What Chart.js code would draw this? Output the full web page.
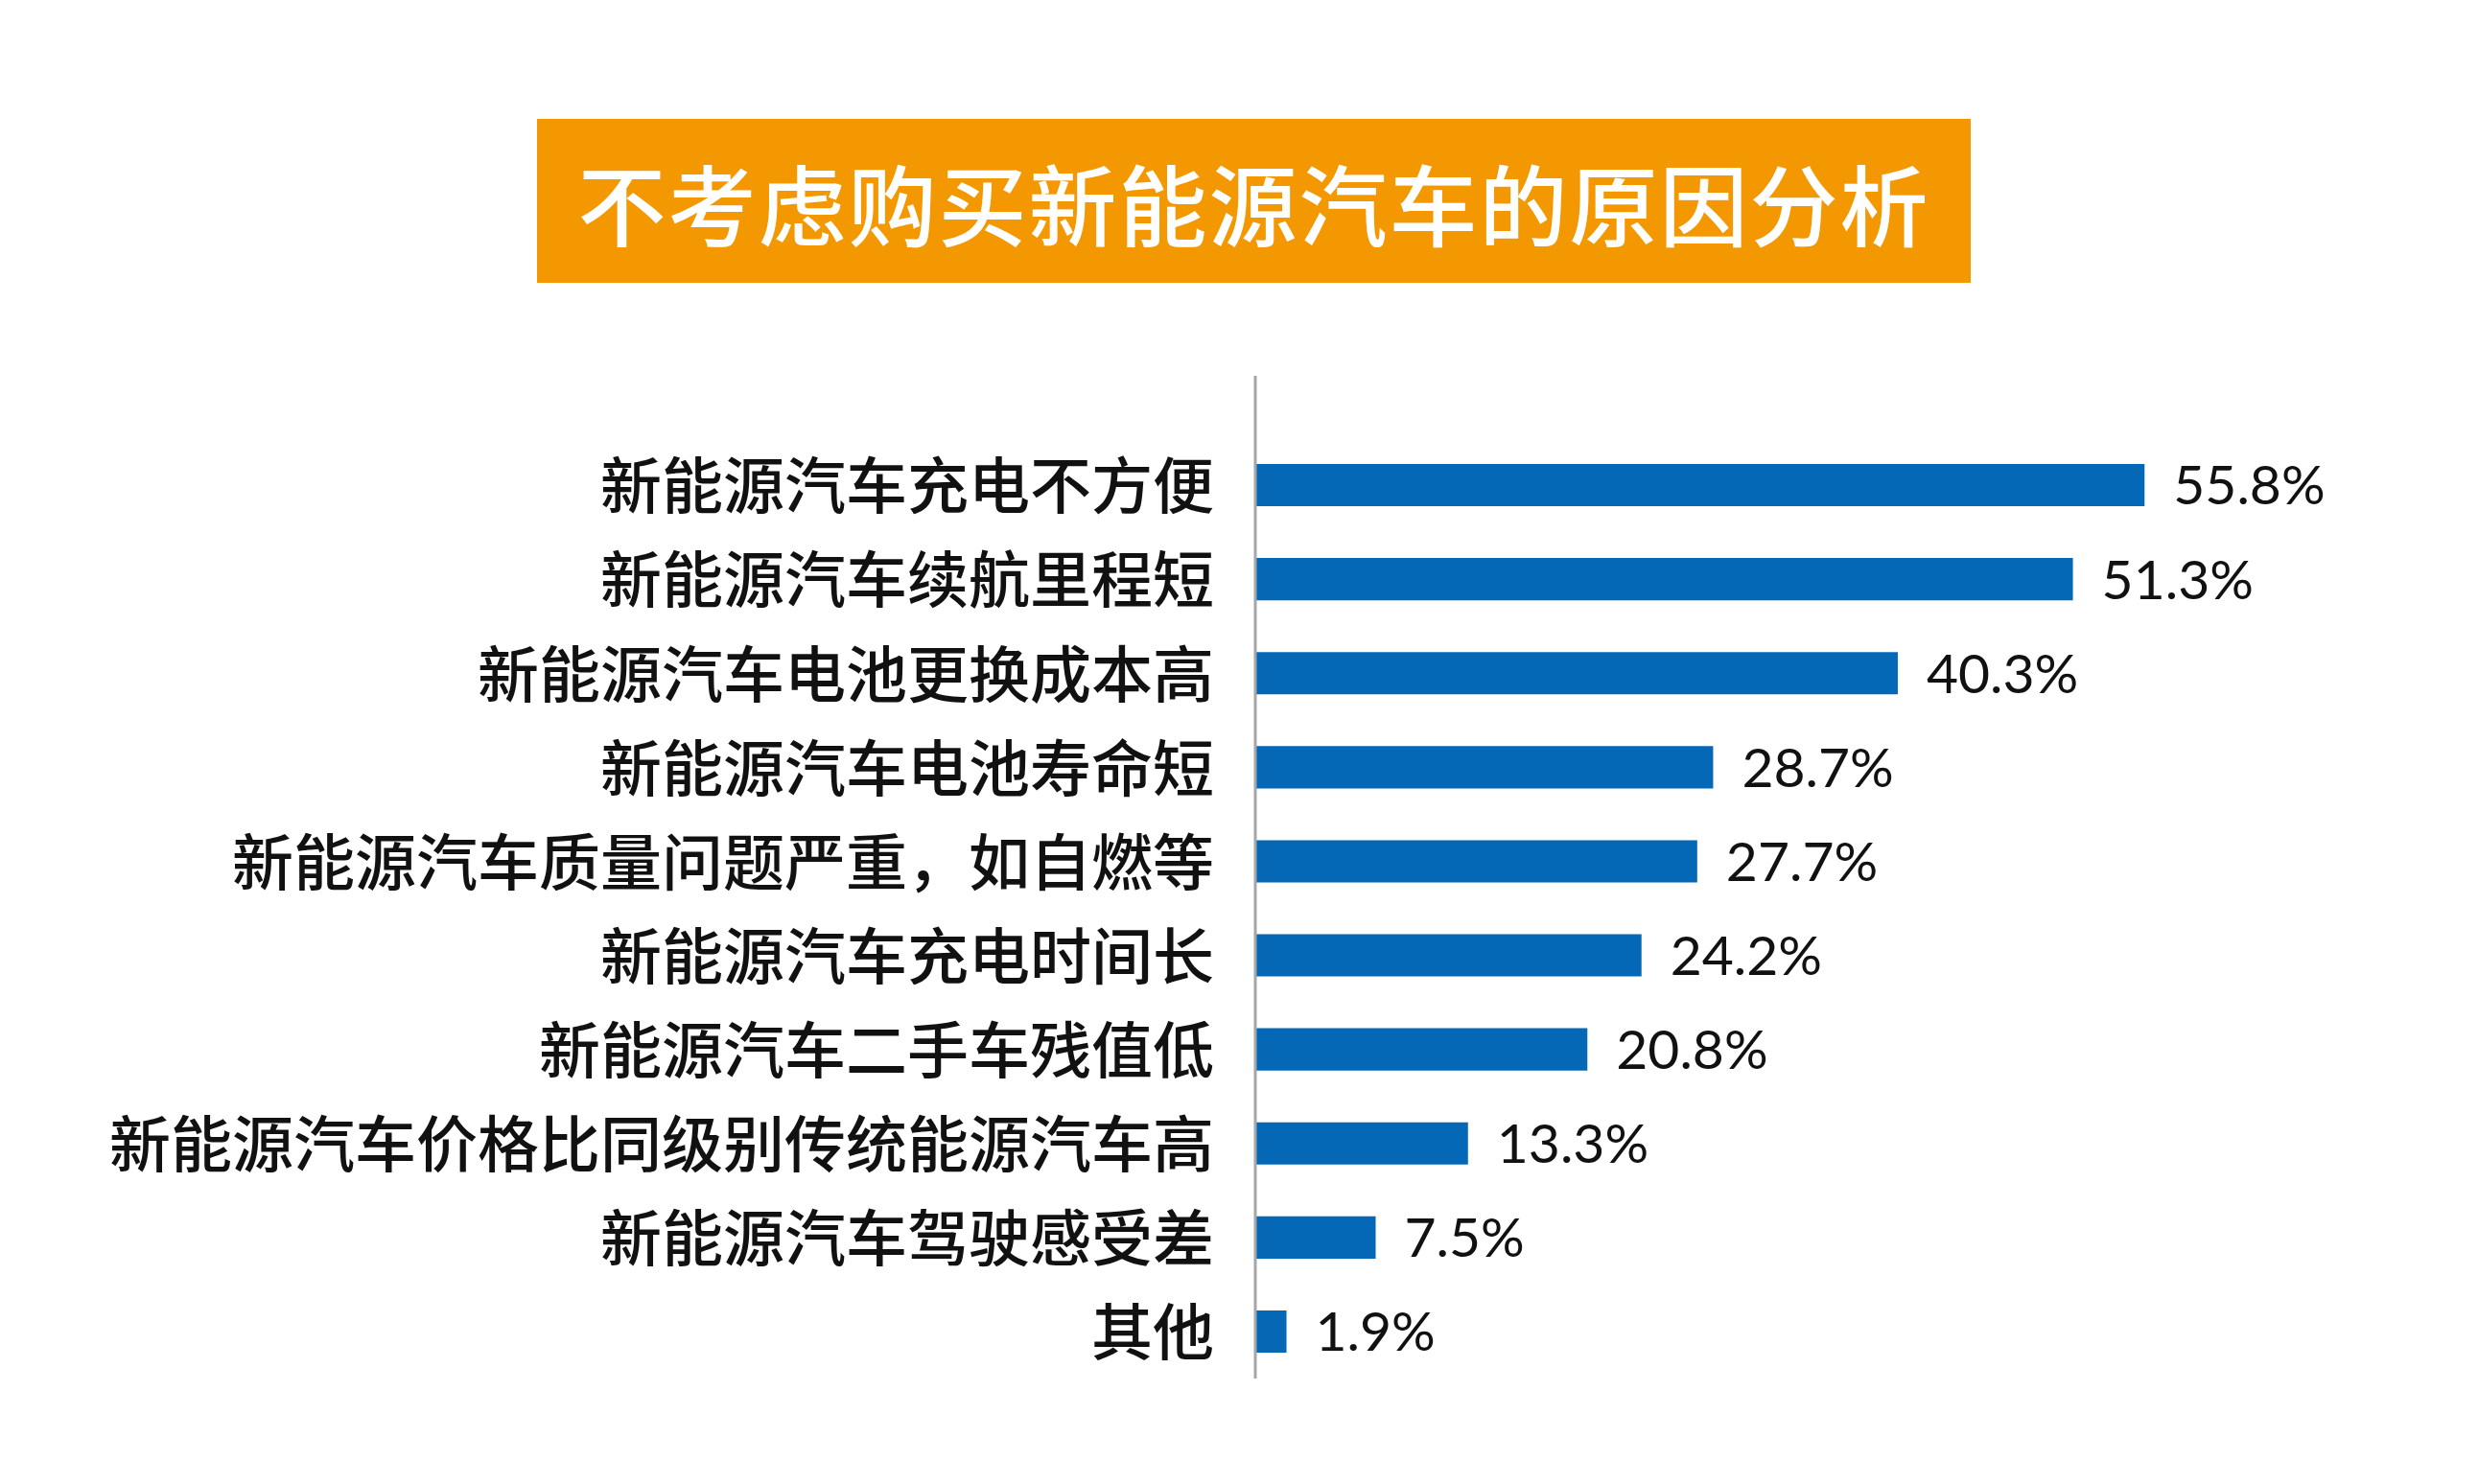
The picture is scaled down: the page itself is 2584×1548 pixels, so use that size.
<!DOCTYPE html>
<html>
<head>
<meta charset="utf-8">
<script src="https://cdn.jsdelivr.net/npm/chart.js@4/dist/chart.umd.min.js"></script>
<style>
  html, body { margin: 0; padding: 0; background: #fff; }
  .wrap { position: relative; width: 2584px; height: 1548px; }
  .title {
    position: absolute; left: 560px; top: 124px; width: 1495px; height: 171px;
    background: #f39800; color: #fff;
    font-family: "Noto Sans CJK SC", sans-serif; font-size: 92px; font-weight: 500;
    display: flex; align-items: center; justify-content: center; letter-spacing: 2px;
  }
  canvas { position: absolute; left: 0; top: 0; }
</style>
</head>
<body>
<div class="wrap">
  <canvas id="bar-chart" width="2584" height="1548"></canvas>
  <div class="title">不考虑购买新能源汽车的原因分析</div>
</div>
<script>
const reasons = [
  '新能源汽车充电不方便',
  '新能源汽车续航里程短',
  '新能源汽车电池更换成本高',
  '新能源汽车电池寿命短',
  '新能源汽车质量问题严重，如自燃等',
  '新能源汽车充电时间长',
  '新能源汽车二手车残值低',
  '新能源汽车价格比同级别传统能源汽车高',
  '新能源汽车驾驶感受差',
  '其他'
];
const shares = [55.8, 51.3, 40.3, 28.7, 27.7, 24.2, 20.8, 13.3, 7.5, 1.9];

// value labels at the end of each bar
const valueLabels = {
  id: 'valueLabels',
  afterDatasetsDraw(chart) {
    const ctx = chart.ctx;
    const meta = chart.getDatasetMeta(0);
    ctx.save();
    ctx.fillStyle = '#111';
    ctx.font = '57px Lato, "Noto Sans", sans-serif';
    ctx.textBaseline = 'middle';
    ctx.textAlign = 'left';
    meta.data.forEach((bar, i) => {
      ctx.fillText(shares[i].toFixed(1) + '%', bar.x + 30, bar.y + 2);
    });
    ctx.restore();
  }
};

// grey vertical axis line, a bit taller than the bars area
const axisLine = {
  id: 'axisLine',
  afterDatasetsDraw(chart) {
    const ctx = chart.ctx;
    const x = chart.scales.x.getPixelForValue(0);
    ctx.save();
    ctx.strokeStyle = '#a6a6a6';
    ctx.lineWidth = 3;
    ctx.beginPath();
    ctx.moveTo(x - 1, chart.chartArea.top - 65);
    ctx.lineTo(x - 1, chart.chartArea.bottom);
    ctx.stroke();
    ctx.restore();
  }
};

const ctx = document.getElementById('bar-chart');
new Chart(ctx, {
  type: 'bar',
  data: {
    labels: reasons,
    datasets: [{
      data: shares,
      backgroundColor: '#0568b6',
      barPercentage: 0.45,
      categoryPercentage: 1
    }]
  },
  options: {
    indexAxis: 'y',
    responsive: false,
    animation: false,
    layout: { padding: { top: 457, bottom: 110, left: 0, right: 112 } },
    plugins: { legend: { display: false }, tooltip: { enabled: false } },
    scales: {
      x: { display: false, min: 0, max: 70 },
      y: {
        afterFit(scale) { scale.width = 1310; },
        border: { display: false },
        grid: { display: false, drawTicks: false },
        ticks: {
          color: '#111',
          padding: 44,
          font: { family: '"Noto Sans CJK SC", sans-serif', size: 64, weight: 500 }
        }
      }
    }
  },
  plugins: [valueLabels, axisLine]
});
</script>
</body>
</html>
